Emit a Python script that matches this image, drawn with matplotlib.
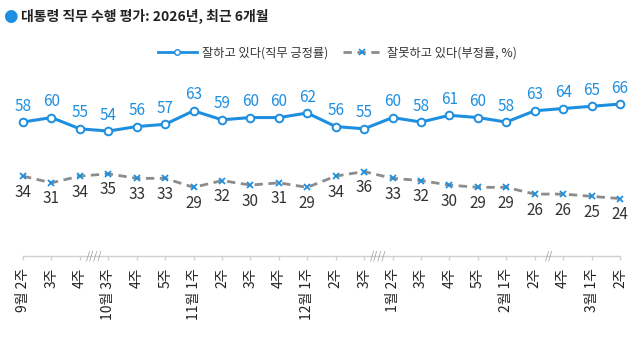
import matplotlib
matplotlib.use('Agg')
import matplotlib.pyplot as plt
from matplotlib.lines import Line2D

plt.rcParams['font.family'] = ['Noto Sans CJK KR', 'DejaVu Sans']

weeks = ['9월 2주', '3주', '4주', '10월 3주', '4주', '5주', '11월 1주', '2주', '3주', '4주',
         '12월 1주', '2주', '3주', '1월 2주', '3주', '4주', '5주', '2월 1주', '2주', '4주',
         '3월 1주', '2주']
approve = [58, 60, 55, 54, 56, 57, 63, 59, 60, 60, 62, 56, 55, 60, 58, 61, 60, 58, 63, 64, 65, 66]
disapprove = [34, 31, 34, 35, 33, 33, 29, 32, 30, 31, 29, 34, 36, 33, 32, 30, 29, 29, 26, 26, 25, 24]
breaks = {2.5: '////', 12.5: '////', 18.5: '//'}

blue = '#1e8fe0'
gray = '#8c8c8c'

fig = plt.figure(figsize=(6.4, 3.6), dpi=100)
ax = fig.add_axes([23/640, 1 - 256/360, 597/640, 228.5/360])
x = list(range(len(weeks)))

ax.plot(x, approve, color=blue, lw=2.2, marker='o', ms=5.5, mfc='white',
        mec=blue, mew=1.4, clip_on=False, zorder=3)
ax.plot(x, disapprove, color=gray, lw=2, ls=(0, (3, 2)), marker='x', ms=4.5,
        mec=blue, mew=1.3, clip_on=False, zorder=3)

for i, (a, d) in enumerate(zip(approve, disapprove)):
    ax.annotate(str(a), (i, a), xytext=(0, 11.5), textcoords='offset points',
                ha='center', va='center', color=blue, fontsize=11, fontweight='medium')
    ax.annotate(str(d), (i, d), xytext=(0, -11.5), textcoords='offset points',
                ha='center', va='center', color='#333333', fontsize=11)

ax.set_xlim(0, len(weeks) - 1)
ax.set_ylim(-1.5, 100)
for s in ['top', 'left', 'right']:
    ax.spines[s].set_visible(False)
ax.spines['bottom'].set_color('#d0d0d0')
ax.spines['bottom'].set_linewidth(1)
ax.set_yticks([])
ax.set_xticks(x)
ax.set_xticklabels([])
ax.tick_params(axis='x', length=3, color='#d0d0d0', width=1)

for i, lab in enumerate(weeks):
    ax.annotate(lab, (i, -1.5), xytext=(0, -8.5), textcoords='offset points',
                rotation=90, rotation_mode='anchor', ha='right', va='center',
                fontsize=10, color='#222222', annotation_clip=False)

for bx, mark in breaks.items():
    ax.annotate(mark, (bx, -1.5), xytext=(0, 0), textcoords='offset points',
                ha='center', va='center', fontsize=7.5, color='#999999',
                style='italic', annotation_clip=False)

# title
fig.text(10/640, 1 - 16/360, '●', color=blue, fontsize=12, ha='center', va='center',
         family=['DejaVu Sans'])
fig.text(21/640, 1 - 16/360, '대통령 직무 수행 평가: 2026년, 최근 6개월', fontsize=10,
         fontweight='bold', color='#222222', ha='left', va='center')

handles = [
    Line2D([], [], color=blue, lw=2, marker='o', ms=4, mfc='white', mec=blue, mew=1),
    Line2D([], [], color=gray, lw=2, ls=(0, (3, 2)), marker='x', ms=4, mec=blue, mew=1.2),
]
fig.legend(handles, ['잘하고 있다(직무 긍정률)', '잘못하고 있다(부정률, %)'],
           loc='center', bbox_to_anchor=(337/640, 1 - 53/360), ncol=2, frameon=False,
           fontsize=8.8, handlelength=3.2, handletextpad=0.4, columnspacing=1.2,
           labelcolor='#333333')

fig.savefig('out.png', dpi=100)
